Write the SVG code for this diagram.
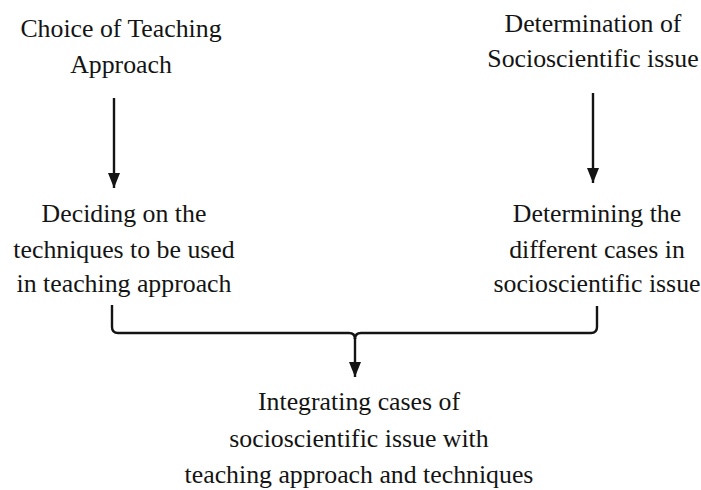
<svg xmlns="http://www.w3.org/2000/svg" width="701" height="490" viewBox="0 0 701 490">
  <defs>
    <style>
      .t { font-family: "Liberation Serif", "Times New Roman", serif; font-size: 25.8px; fill: #141414; text-anchor: middle; }
      .c { fill: none; stroke: #141414; stroke-width: 2.4; stroke-linecap: butt; stroke-linejoin: round; }
    </style>
    <marker id="ah" viewBox="0 0 15 12" refX="15" refY="6" markerWidth="15" markerHeight="12" markerUnits="userSpaceOnUse" orient="auto">
      <path d="M0,0 L15,6 L0,12 z" fill="#141414"/>
    </marker>
  </defs>
  <rect width="701" height="490" fill="#ffffff"/>

  <g id="node-choice">
    <text class="t" x="121" y="37">Choice of Teaching</text>
    <text class="t" x="121" y="73">Approach</text>
  </g>
  <g id="node-determination">
    <text class="t" x="593" y="32">Determination of</text>
    <text class="t" x="593" y="67">Socioscientific issue</text>
  </g>
  <g id="node-deciding">
    <text class="t" x="124" y="222">Deciding on the</text>
    <text class="t" x="124" y="258">techniques to be used</text>
    <text class="t" x="124" y="292">in teaching approach</text>
  </g>
  <g id="node-determining">
    <text class="t" x="597" y="222">Determining the</text>
    <text class="t" x="597" y="258">different cases in</text>
    <text class="t" x="597" y="292">socioscientific issue</text>
  </g>
  <g id="node-integrating">
    <text class="t" x="359" y="410">Integrating cases of</text>
    <text class="t" x="359" y="447">socioscientific issue with</text>
    <text class="t" x="359" y="483">teaching approach and techniques</text>
  </g>

  <g id="connectors">
    <path class="c" d="M114,98 V188" marker-end="url(#ah)"/>
    <path class="c" d="M593,93 V183" marker-end="url(#ah)"/>
    <path class="c" d="M112,305 V327 Q112,333 118,333 H349 Q355,333 355,339"/>
    <path class="c" d="M597,306 V327 Q597,333 591,333 H361 Q355,333 355,339"/>
    <path class="c" d="M355,338 V377" marker-end="url(#ah)"/>
  </g>
</svg>
